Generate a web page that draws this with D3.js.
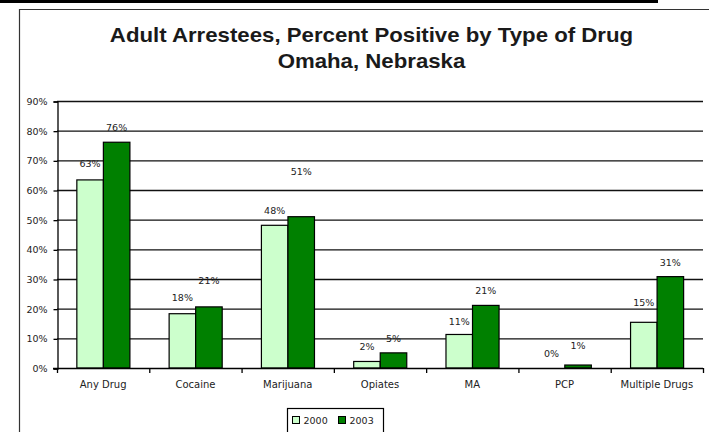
<!DOCTYPE html>
<html>
<head>
<meta charset="utf-8">
<script src="https://cdn.jsdelivr.net/npm/d3@7"></script>
<style>
  body { margin: 0; background: #fff; }
  svg { display: block; }
  text { font-family: "DejaVu Sans", sans-serif; fill: #000; }
</style>
</head>
<body>
<svg id="chart" width="709" height="432"></svg>
<script>
const categories = ["Any Drug", "Cocaine", "Marijuana", "Opiates", "MA", "PCP", "Multiple Drugs"]
const series = ["2000", "2003"]
const values2000 = [63.4, 18.3, 48.1, 2.2, 11.3, 0, 15.4]
const values2003 = [76.1, 20.6, 51.0, 5.1, 21.1, 1.0, 30.8]
const yTicks = [0, 10, 20, 30, 40, 50, 60, 70, 80, 90]
// labels in the original sit at odd heights, px above bar tops
const lift2000 = [16, 16, 15, 15, 13, 15, 20]
const lift2003 = [15, 26, 45, 14, 15, 20, 14]

const colors = { "2000": "#ccffcc", "2003": "#008000" }

const svg = d3.select("#chart")

// page rule at very top + chart frame
svg.append("rect").attr("x", 0).attr("y", 0).attr("width", 658).attr("height", 3).style("fill", "#000")
svg.append("path")
  .attr("d", "M19.5,432 V9.5 H709")
  .style("fill", "none").style("stroke", "#333").style("stroke-width", 1.2)

// title is drawn a bit wide in the source, so stretch it horizontally
const titleLines = [["Adult Arrestees, Percent Positive by Type of Drug", 42], ["Omaha, Nebraska", 68]]
titleLines.forEach(([t, by]) => {
  svg.append("text")
    .attr("transform", `translate(371.5,${by}) scale(1.14,1)`)
    .attr("text-anchor", "middle")
    .style("font-family", "'Liberation Sans', Arial, sans-serif").style("font-weight", "bold")
    .style("font-size", "19.5px").style("fill", "#1a1a1a")
    .text(t)
})

const x0 = d3.scaleBand().domain(categories).range([57, 703])
const bw = x0.bandwidth()
const x1 = d3.scaleBand().domain(series).range([bw * 0.215, bw * 0.79])
const y = d3.scaleLinear().domain([0, 90]).range([368, 101])

// gridlines
svg.append("g")
  .selectAll("line")
  .data(yTicks.filter(d => d > 0))
  .enter()
  .append("line")
  .attr("x1", 57).attr("x2", 703)
  .attr("y1", d => y(d) + 0.5).attr("y2", d => y(d) + 0.5)
  .style("stroke", "#111").style("stroke-width", 1.3)

// y axis
const yAxis = svg.append("g").attr("transform", "translate(57.5,0.5)")
  .call(d3.axisLeft(y).tickValues(yTicks).tickSize(4).tickPadding(6).tickFormat(d => d + "%"))
yAxis.select(".domain").style("stroke", "#000").style("stroke-width", 1.3)
yAxis.selectAll(".tick line").style("stroke", "#000").style("stroke-width", 1.3)
yAxis.selectAll("text").style("font-size", "9.5px").style("font-family", "'DejaVu Sans', sans-serif").style("fill", "#222")

// bars
const rows = categories.map((c, i) => ({ cat: c, i: i, vals: [values2000[i], values2003[i]] }))
const groups = svg.append("g").selectAll("g")
  .data(rows)
  .enter()
  .append("g")
  .attr("transform", d => `translate(${x0(d.cat)},0)`)

groups.selectAll("rect")
  .data(d => series.map((s, k) => ({ s: s, v: d.vals[k] })).filter(e => e.v > 0))
  .enter()
  .append("rect")
  .attr("x", d => x1(d.s))
  .attr("y", d => y(d.v))
  .attr("width", x1.bandwidth())
  .attr("height", d => y(0) - y(d.v))
  .style("fill", d => colors[d.s])
  .style("stroke", "#000")
  .style("stroke-width", 1.2)

groups.selectAll("text.val")
  .data(d => series.map((s, k) => ({ s: s, v: d.vals[k], lift: k === 0 ? lift2000[d.i] : lift2003[d.i] })))
  .enter()
  .append("text")
  .classed("val", true)
  .attr("x", d => x1(d.s) + x1.bandwidth() / 2)
  .attr("y", d => y(d.v) - d.lift + 3.5)
  .attr("text-anchor", "middle")
  .style("font-size", "9.5px")
  .style("fill", "#222")
  .text(d => Math.round(d.v) + "%")

// x axis
const xAxis = svg.append("g").attr("transform", "translate(0,368.5)")
  .call(d3.axisBottom(x0).tickSize(0).tickPadding(12))
xAxis.select(".domain").remove()
svg.append("line").attr("x1", 53).attr("x2", 703).attr("y1", 368.5).attr("y2", 368.5)
  .style("stroke", "#000").style("stroke-width", 1.3)
svg.append("g").selectAll("line")
  .data(categories.map(c => x0(c)).concat([703]))
  .enter()
  .append("line")
  .attr("x1", d => d + 0.5).attr("x2", d => d + 0.5)
  .attr("y1", 368).attr("y2", 373)
  .style("stroke", "#000").style("stroke-width", 1.3)
xAxis.selectAll("text").style("font-size", "10px").style("font-family", "'DejaVu Sans', sans-serif").style("fill", "#222")

// legend
const lg = svg.append("g").attr("transform", "translate(287.5,408.5)")
lg.append("rect").attr("width", 96).attr("height", 30).style("fill", "#fff").style("stroke", "#000").style("stroke-width", 1.2)
series.forEach((s, k) => {
  const item = lg.append("g").attr("transform", `translate(${5 + k * 46},8)`)
  item.append("rect").attr("width", 7).attr("height", 7).style("fill", colors[s]).style("stroke", "#000")
  item.append("text").attr("x", 11).attr("y", 7.5).style("font-size", "9.5px").style("fill", "#222").text(s)
})
</script>
</body>
</html>
